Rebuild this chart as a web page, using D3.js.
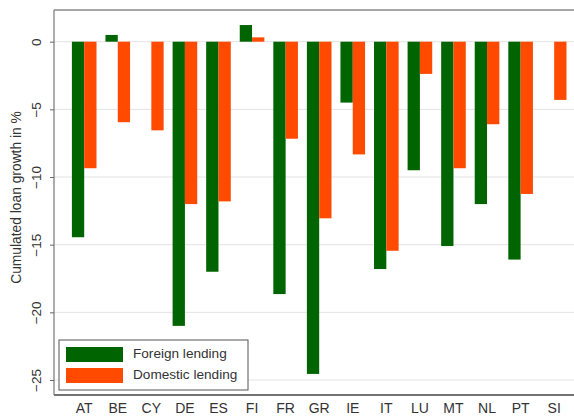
<!DOCTYPE html>
<html><head><meta charset="utf-8">
<script src="https://cdn.jsdelivr.net/npm/d3@7"></script>
<style>body{margin:0;background:#fff}svg{display:block}</style>
</head><body>
<script>
const categories = ["AT","BE","CY","DE","ES","FI","FR","GR","IE","IT","LU","MT","NL","PT","SI"];
const foreign  = [-14.45, 0.5, null, -21.0, -17.0, 1.23, -18.65, -24.55, -4.5, -16.8, -9.5, -15.1, -12.0, -16.1, null];
const domestic = [-9.35, -5.95, -6.55, -12.0, -11.8, 0.32, -7.17, -13.05, -8.33, -15.45, -2.38, -9.35, -6.1, -11.25, -4.3];
const seriesNames = ["Foreign lending","Domestic lending"];
const colors = ["#006400","#ff4a00"];
const yTicks = [0,-5,-10,-15,-20,-25];

const W = 574, H = 419;
const svg = d3.select("body").append("svg").attr("width", W).attr("height", H);
const plotL = 54, plotT = 10, plotB = 395, plotR = 600;
const font = "Liberation Sans, Arial, sans-serif";

const y = d3.scaleLinear().domain([0,-25]).range([41.7, 380]);
const step = 33.57;
const x = d3.scaleBand().domain(categories)
  .range([84.2 - step/2, 84.2 - step/2 + step*categories.length])
  .paddingInner(0.267).paddingOuter(0.1335);
const xs = d3.scaleBand().domain([0,1]).range([0, x.bandwidth()]);

// gridlines
svg.append("g").selectAll("line").data(yTicks).join("line")
  .attr("x1", plotL).attr("x2", plotR)
  .attr("y1", d => y(d)).attr("y2", d => y(d))
  .attr("stroke", "#e3e3e3").attr("stroke-width", 1);

// bars
const series = [foreign, domestic];
series.forEach((vals, si) => {
  svg.append("g").selectAll("rect")
    .data(categories.map((c,i) => ({c, v: vals[i]})).filter(d => d.v !== null))
    .join("rect")
    .attr("x", d => x(d.c) + xs(si))
    .attr("width", xs.bandwidth())
    .attr("y", d => y(Math.max(0, d.v)))
    .attr("height", d => Math.abs(y(d.v) - y(0)))
    .attr("fill", colors[si]);
});

// frame
svg.append("line").attr("x1", plotL).attr("x2", plotR).attr("y1", plotT).attr("y2", plotT)
  .attr("stroke", "#888").attr("stroke-width", 1.5);
svg.append("line").attr("x1", plotL).attr("x2", plotR).attr("y1", plotB).attr("y2", plotB)
  .attr("stroke", "#444").attr("stroke-width", 1.5);
svg.append("line").attr("x1", plotL).attr("x2", plotL).attr("y1", plotT).attr("y2", plotB)
  .attr("stroke", "#777").attr("stroke-width", 1.2);

// y axis
const yAxis = d3.axisLeft(y).tickValues(yTicks).tickSize(4).tickFormat(d3.format("d"));
const ya = svg.append("g").attr("transform", `translate(${plotL},0)`).call(yAxis);
ya.select(".domain").remove();
ya.selectAll(".tick line").attr("stroke", "#666");
ya.selectAll(".tick text")
  .attr("font-family", font).attr("font-size", 13.5).attr("fill", "#333")
  .attr("text-anchor", "middle").attr("x", 0).attr("dy", 0)
  .attr("transform", "translate(-17,0) rotate(-90)")
  .attr("dominant-baseline", "middle");

// x axis labels
const xAxis = d3.axisBottom(x).tickSize(0).tickPadding(0);
const xa = svg.append("g").attr("transform", `translate(0,${plotB})`).call(xAxis);
xa.select(".domain").remove();
xa.selectAll(".tick text")
  .attr("font-family", font).attr("font-size", 14).attr("fill", "#333")
  .attr("y", 8).attr("dy", "0.71em");

// y title
svg.append("text")
  .attr("transform", `translate(21,${(plotT+plotB)/2 - 5}) rotate(-90)`)
  .attr("text-anchor", "middle")
  .attr("font-family", font).attr("font-size", 13.8).attr("fill", "#333")
  .text("Cumulated loan growth in %");

// legend
const lg = svg.append("g");
lg.append("rect").attr("x", 59).attr("y", 340).attr("width", 189).attr("height", 50)
  .attr("fill", "#fff").attr("stroke", "#555").attr("stroke-width", 1);
seriesNames.forEach((n, i) => {
  lg.append("rect").attr("x", 66).attr("y", 347 + i*21).attr("width", 57).attr("height", 15).attr("fill", colors[i]);
  lg.append("text").attr("x", 133).attr("y", 354.5 + i*21).attr("dominant-baseline", "middle")
    .attr("font-family", font).attr("font-size", 13.6).attr("fill", "#333")
    .text(n);
});
</script>
</body></html>
